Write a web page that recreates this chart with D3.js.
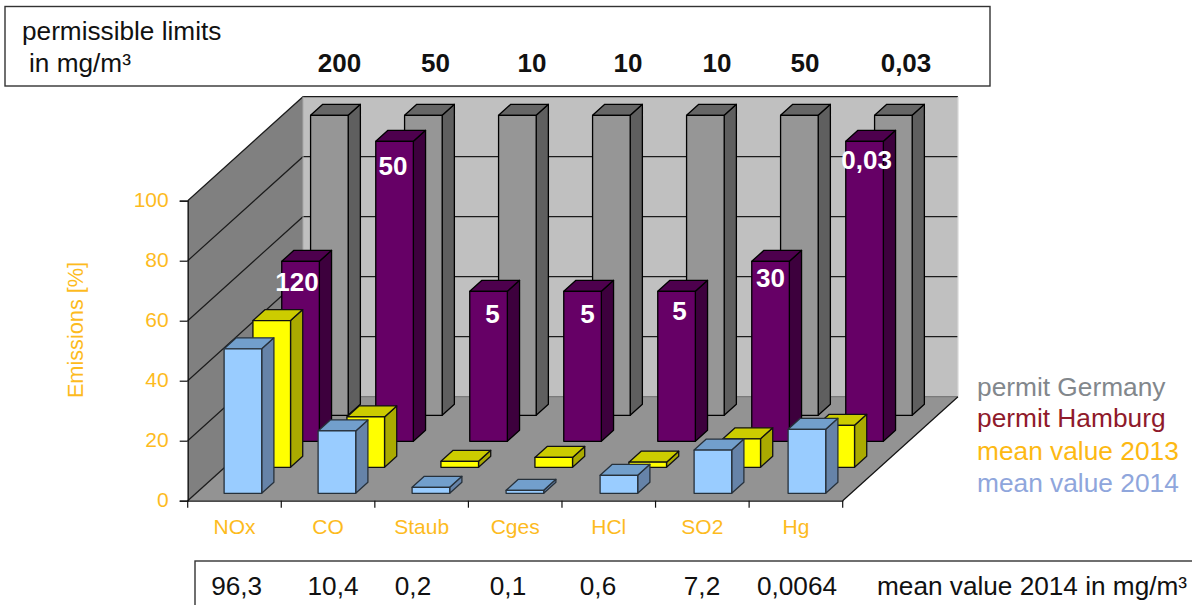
<!DOCTYPE html>
<html>
<head>
<meta charset="utf-8">
<title>Emissions relative to permit limits</title>
<script src="https://cdn.jsdelivr.net/npm/d3@7/dist/d3.min.js"></script>
<style>
  html, body { margin: 0; padding: 0; background: #fff; overflow: hidden; }
  svg { display: block; font-family: "Liberation Sans", Arial, sans-serif; }
</style>
</head>
<body>
<svg id="chart" width="1192" height="605"></svg>
<script>
// Pollutants along the horizontal axis
const categories = ["NOx", "CO", "Staub", "Cges", "HCl", "SO2", "Hg"];
const yTicks = [0, 20, 40, 60, 80, 100];

// Concentrations in mg/m³
const permitGermany = [200, 50, 10, 10, 10, 50, 0.03];
const permitHamburg = [120, 50, 5, 5, 5, 30, 0.03];
const mean2014 = [96.3, 10.4, 0.2, 0.1, 0.6, 7.2, 0.0064];

// 2013 means, already expressed as % of the German permit
const mean2013Pct = [48.9, 16.8, 2, 3.3, 1.7, 9.5, 14];

const legendLabels = ["permit Germany", "permit Hamburg", "mean value 2013", "mean value 2014"];

// Layout
const floorLeft = 187.7, floorFrontY = 500.7, wallHeight = 300;
const depthWidth = 115.3, depthRise = 104;
const axisStep = 93.57, barStep = 94;
const barWidth = 37.6;
const rowFront = i => (7.4 + 26 * i) / 104;
const barDepth = 11 / 104;

const limitX = [339.5, 435.5, 532, 628, 717, 805, 906];
const meanX = [236.7, 333, 413, 508, 598, 702, 797];
const legendY = [396, 426.5, 460, 491.5];
const labelNudgeX = [-3.5, -1.5, 4, 5, 3, 0, 2];
const labelNudgeY = [30, 34, 32, 32, 29, 26, 28];

const decimalComma = v => String(v).replace(".", ",");
const pct = (v, i) => v / permitGermany[i] * 100;

const series = [
  { name: legendLabels[0], row: 3, values: permitGermany.map(pct),
    front: "#969696", side: "#5f5f5f", top: "#666666", edge: "#000" },
  { name: legendLabels[1], row: 2, values: permitHamburg.map(pct),
    front: "#660066", side: "#3d003d", top: "#4d004d", edge: "#000" },
  { name: legendLabels[2], row: 1, values: mean2013Pct,
    front: "#ffff00", side: "#aaaa00", top: "#cccc00", edge: "#111" },
  { name: legendLabels[3], row: 0, values: mean2014.map(pct),
    front: "#99ccff", side: "#6683a8", top: "#729fcc", edge: "#27313b" }
];
const legendColors = ["#82878c", "#8f1a2b", "#fdb913", "#8fa6dc"];
const amber = "#fdbb1e";

const svg = d3.select("#chart");

// Scales: height, category position on the floor, depth into the room
const y = d3.scaleLinear().domain([0, 100]).range([floorFrontY, floorFrontY - wallHeight]);
const xAxisBand = d3.scaleBand().domain(categories)
  .range([floorLeft, floorLeft + axisStep * categories.length]);
const xBar = d3.scaleBand().domain(categories)
  .range([floorLeft, floorLeft + barStep * categories.length])
  .paddingInner(0).paddingOuter(0);
const depthX = d3.scaleLinear().domain([0, 1]).range([0, depthWidth]);
const depthY = d3.scaleLinear().domain([0, 1]).range([0, -depthRise]);

const project = (px, t, v) => [px + depthX(t), y(v) + depthY(t)];
const poly = pts => pts.map(p => p.join(",")).join(" ");

const floorRight = xAxisBand.range()[1];

// Room: back wall, side wall, floor
const room = svg.append("g");
room.append("polygon")
  .attr("points", poly([project(floorLeft, 1, 0), project(floorLeft, 1, 100), project(floorRight, 1, 100), project(floorRight, 1, 0)]))
  .attr("fill", "#c0c0c0");
room.append("polygon")
  .attr("points", poly([project(floorLeft, 0, 0), project(floorLeft, 0, 100), project(floorLeft, 1, 100), project(floorLeft, 1, 0)]))
  .attr("fill", "#808080");
room.append("polygon")
  .attr("points", poly([project(floorLeft, 0, 0), project(floorRight, 0, 0), project(floorRight, 1, 0), project(floorLeft, 1, 0)]))
  .attr("fill", "#939393");

// Gridlines running along the side wall and the back wall
room.selectAll("polyline.grid").data(yTicks).join("polyline")
  .attr("class", "grid")
  .attr("points", v => poly([project(floorLeft, 0, v), project(floorLeft, 1, v), project(floorRight, 1, v)]))
  .attr("fill", "none")
  .attr("stroke", v => v === 0 ? "#7a7a7a" : "#1c1c1c")
  .attr("stroke-width", 1.2);
room.append("line")
  .attr("x1", project(floorLeft, 0, 0)[0]).attr("y1", project(floorLeft, 0, 0)[1])
  .attr("x2", project(floorLeft, 1, 0)[0]).attr("y2", project(floorLeft, 1, 0)[1])
  .attr("stroke", "#1c1c1c").attr("stroke-width", 1.2);
room.append("line")
  .attr("x1", project(floorLeft, 1, 0)[0]).attr("y1", project(floorLeft, 1, 0)[1])
  .attr("x2", project(floorLeft, 1, 100)[0]).attr("y2", project(floorLeft, 1, 100)[1])
  .attr("stroke", "#a8a8a8").attr("stroke-width", 1);
room.append("line")
  .attr("x1", project(floorRight, 1, 0)[0]).attr("y1", project(floorRight, 1, 0)[1])
  .attr("x2", project(floorRight, 1, 100)[0]).attr("y2", project(floorRight, 1, 100)[1])
  .attr("stroke", "#d8d8d8").attr("stroke-width", 1.2);
room.append("line")
  .attr("x1", project(floorRight, 0, 0)[0]).attr("y1", project(floorRight, 0, 0)[1])
  .attr("x2", project(floorRight, 1, 0)[0]).attr("y2", project(floorRight, 1, 0)[1])
  .attr("stroke", "#111").attr("stroke-width", 1.2);

// Bars, back row first so nearer rows overlap farther ones
series.forEach(s => {
  const t0 = rowFront(s.row), t1 = t0 + barDepth;
  const g = svg.append("g").attr("class", "row");
  const bars = g.selectAll("g").data(categories.map((c, i) => ({ c, v: s.values[i] }))).join("g")
    .attr("stroke", s.edge).attr("stroke-width", 1.3).attr("stroke-linejoin", "round");
  const left = d => xBar(d.c) + (xBar.bandwidth() - barWidth) / 2;
  bars.append("polygon").attr("fill", s.side)
    .attr("points", d => poly([
      project(left(d) + barWidth, t0, 0), project(left(d) + barWidth, t1, 0),
      project(left(d) + barWidth, t1, d.v), project(left(d) + barWidth, t0, d.v)]));
  bars.append("polygon").attr("fill", s.top)
    .attr("points", d => poly([
      project(left(d), t0, d.v), project(left(d) + barWidth, t0, d.v),
      project(left(d) + barWidth, t1, d.v), project(left(d), t1, d.v)]));
  bars.append("polygon").attr("fill", s.front)
    .attr("points", d => poly([
      project(left(d), t0, 0), project(left(d) + barWidth, t0, 0),
      project(left(d) + barWidth, t0, d.v), project(left(d), t0, d.v)]));
});

// Hamburg permit values printed on the purple bars
const hamburgRow = series[1];
svg.append("g").selectAll("text").data(permitHamburg).join("text")
  .attr("x", (v, i) => xBar(categories[i]) + xBar.bandwidth() / 2 + depthX(rowFront(hamburgRow.row)) + labelNudgeX[i])
  .attr("y", (v, i) => project(0, rowFront(hamburgRow.row), hamburgRow.values[i])[1] + labelNudgeY[i])
  .attr("text-anchor", "middle")
  .attr("font-size", 26).attr("font-weight", "bold").attr("fill", "#fff")
  .text(decimalComma);

// Value axis
const yAxis = svg.append("g")
  .attr("transform", `translate(${floorLeft},0)`)
  .call(d3.axisLeft(y).tickValues(yTicks).tickSize(8).tickPadding(11));
yAxis.selectAll("path").attr("stroke", "#111").attr("stroke-width", 1.3);
yAxis.selectAll("line").attr("stroke", "#111").attr("stroke-width", 1.2);
yAxis.selectAll("text").attr("fill", amber).attr("font-size", 21)
  .attr("dy", "0.28em")
  .attr("font-family", "'Liberation Sans', Arial, sans-serif");

// Category axis: labels at band centres, ticks on band boundaries
const xAxis = svg.append("g")
  .attr("transform", `translate(0,${floorFrontY})`)
  .call(d3.axisBottom(xAxisBand).tickSize(0).tickPadding(18.5));
xAxis.select("path").attr("stroke", "#111").attr("stroke-width", 1.3);
xAxis.selectAll("text").attr("fill", amber).attr("font-size", 21)
  .attr("font-family", "'Liberation Sans', Arial, sans-serif");
xAxis.selectAll("line.edge").data([...categories.map(c => xAxisBand(c)), floorRight]).join("line")
  .attr("class", "edge")
  .attr("x1", d => d).attr("x2", d => d).attr("y1", 0).attr("y2", 7)
  .attr("stroke", "#111").attr("stroke-width", 1.2);

svg.append("text")
  .attr("transform", "translate(83,330) rotate(-90)")
  .attr("text-anchor", "middle")
  .attr("font-size", 21.7).attr("fill", amber)
  .text("Emissions [%]");

// Legend
svg.append("g").selectAll("text").data(legendLabels).join("text")
  .attr("x", 977)
  .attr("y", (d, i) => legendY[i])
  .attr("font-size", 26.3)
  .attr("fill", (d, i) => legendColors[i])
  .text(d => d);

// Permissible limits box
svg.append("rect")
  .attr("x", 5).attr("y", 6.5).attr("width", 985).attr("height", 79.5)
  .attr("fill", "#fff").attr("stroke", "#333").attr("stroke-width", 1.4);
svg.append("text").attr("x", 22).attr("y", 40).attr("font-size", 26.2).attr("fill", "#111").text("permissible limits");
svg.append("text").attr("x", 29).attr("y", 72).attr("font-size", 26.2).attr("fill", "#111").text("in mg/m³");
svg.append("g").selectAll("text").data(permitGermany).join("text")
  .attr("x", (d, i) => limitX[i]).attr("y", 72)
  .attr("text-anchor", "middle")
  .attr("font-size", 26).attr("font-weight", "bold").attr("fill", "#111")
  .text(decimalComma);

// 2014 mean values box, open towards the page edge
svg.append("rect")
  .attr("x", 195).attr("y", 561).attr("width", 1010).attr("height", 60)
  .attr("fill", "#fff").attr("stroke", "#333").attr("stroke-width", 1.4);
svg.append("g").selectAll("text").data(mean2014).join("text")
  .attr("x", (d, i) => meanX[i]).attr("y", 595)
  .attr("text-anchor", "middle")
  .attr("font-size", 26.2).attr("fill", "#111")
  .text(decimalComma);
svg.append("text").attr("x", 877).attr("y", 595).attr("font-size", 26.2).attr("fill", "#111")
  .text("mean value 2014 in mg/m³");
</script>
</body>
</html>
